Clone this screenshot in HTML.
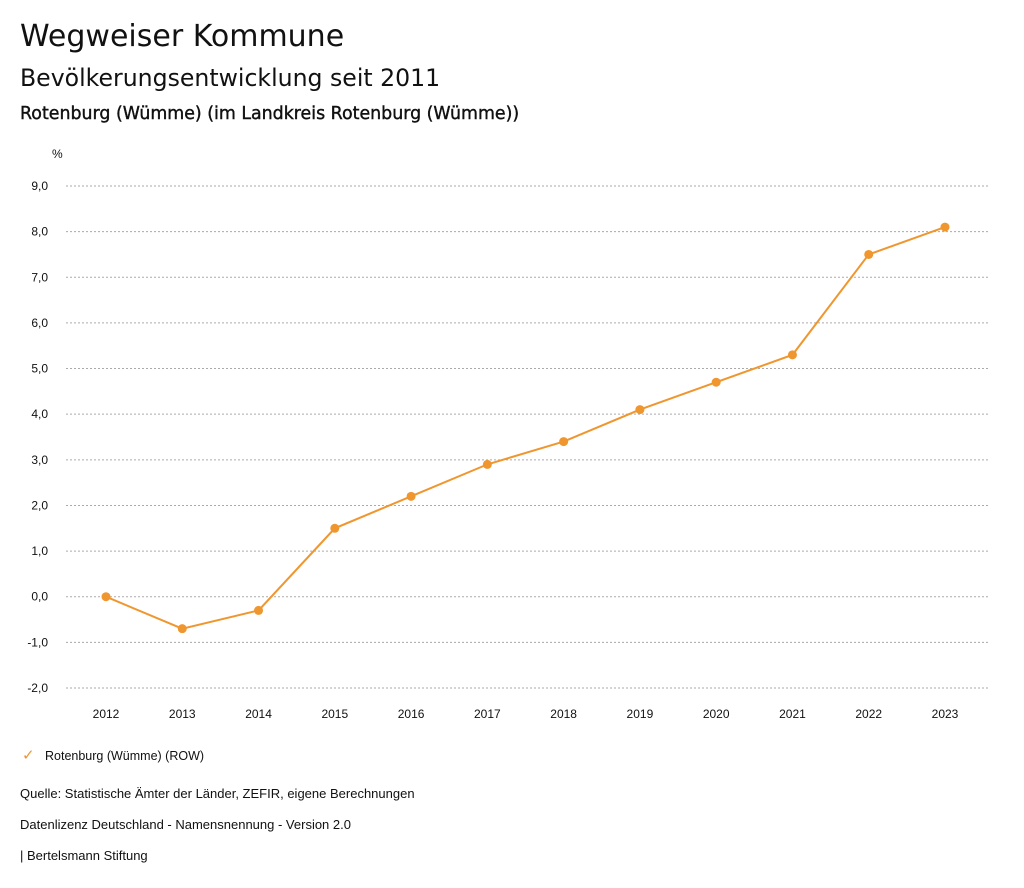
<!DOCTYPE html>
<html><head><meta charset="utf-8"><style>
body{margin:0;width:1024px;height:888px;background:#fff;font-family:"Liberation Sans",sans-serif;color:#111;position:relative;overflow:hidden}
.t{position:absolute;left:20px;white-space:nowrap}
</style></head><body>
<div class="t" style="top:19px;font:30px 'DejaVu Sans',sans-serif">Wegweiser Kommune</div>
<div class="t" style="top:64px;font:23.6px 'DejaVu Sans',sans-serif">Bevölkerungsentwicklung seit 2011</div>
<div class="t" style="top:104px;font:17.4px 'DejaVu Sans',sans-serif;-webkit-text-stroke:0.4px #111">Rotenburg (Wümme) (im Landkreis Rotenburg (Wümme))</div>
<svg id="chart" width="1024" height="740" style="position:absolute;left:0;top:0" font-family="Liberation Sans, sans-serif"></svg>
<div class="t" style="top:746px;font-size:12.5px;left:22px"><span style="color:#f0962e;font-size:15px">✓</span>&nbsp;&nbsp;&nbsp;Rotenburg (Wümme) (ROW)</div>
<div class="t" style="top:786px;font-size:13px">Quelle: Statistische Ämter der Länder, ZEFIR, eigene Berechnungen</div>
<div class="t" style="top:817px;font-size:13px">Datenlizenz Deutschland - Namensnennung - Version 2.0</div>
<div class="t" style="top:848px;font-size:13px">| Bertelsmann Stiftung</div>
<script>
const years=[2012,2013,2014,2015,2016,2017,2018,2019,2020,2021,2022,2023];
const values=[0.0,-0.7,-0.3,1.5,2.2,2.9,3.4,4.1,4.7,5.3,7.5,8.1];
const yTicks=[9,8,7,6,5,4,3,2,1,0,-1,-2];
const svg=document.getElementById('chart');
const NS='http://www.w3.org/2000/svg';
const y=v=>186+(9-v)*(688-186)/11;
const x=i=>106+i*(945-106)/(years.length-1);
function mk(t,a){const e=document.createElementNS(NS,t);for(const k in a)e.setAttribute(k,a[k]);svg.appendChild(e);return e;}
const u=mk('text',{x:52,y:158,'font-size':12,fill:'#111'});u.textContent='%';


yTicks.forEach(v=>{
const l=mk('line',{x1:66,x2:990,y1:y(v),y2:y(v),stroke:'#aaa','stroke-dasharray':'2,2','stroke-width':1});


const t=mk('text',{x:48,y:y(v)+4,'font-size':12,'text-anchor':'end',fill:'#111'});
t.textContent=v.toFixed(1).replace('.',',');


});
years.forEach((yr,i)=>{
const t=mk('text',{x:x(i),y:718,'font-size':12,'text-anchor':'middle',fill:'#111'});
t.textContent=yr;


});
const p=mk('polyline',{points:values.map((v,i)=>x(i)+','+y(v)).join(' '),fill:'none',stroke:'#f0962e','stroke-width':2});


values.forEach((v,i)=>{
const c=mk('circle',{cx:x(i),cy:y(v),r:4.5,fill:'#f0962e'});


});
</script>
</body></html>
